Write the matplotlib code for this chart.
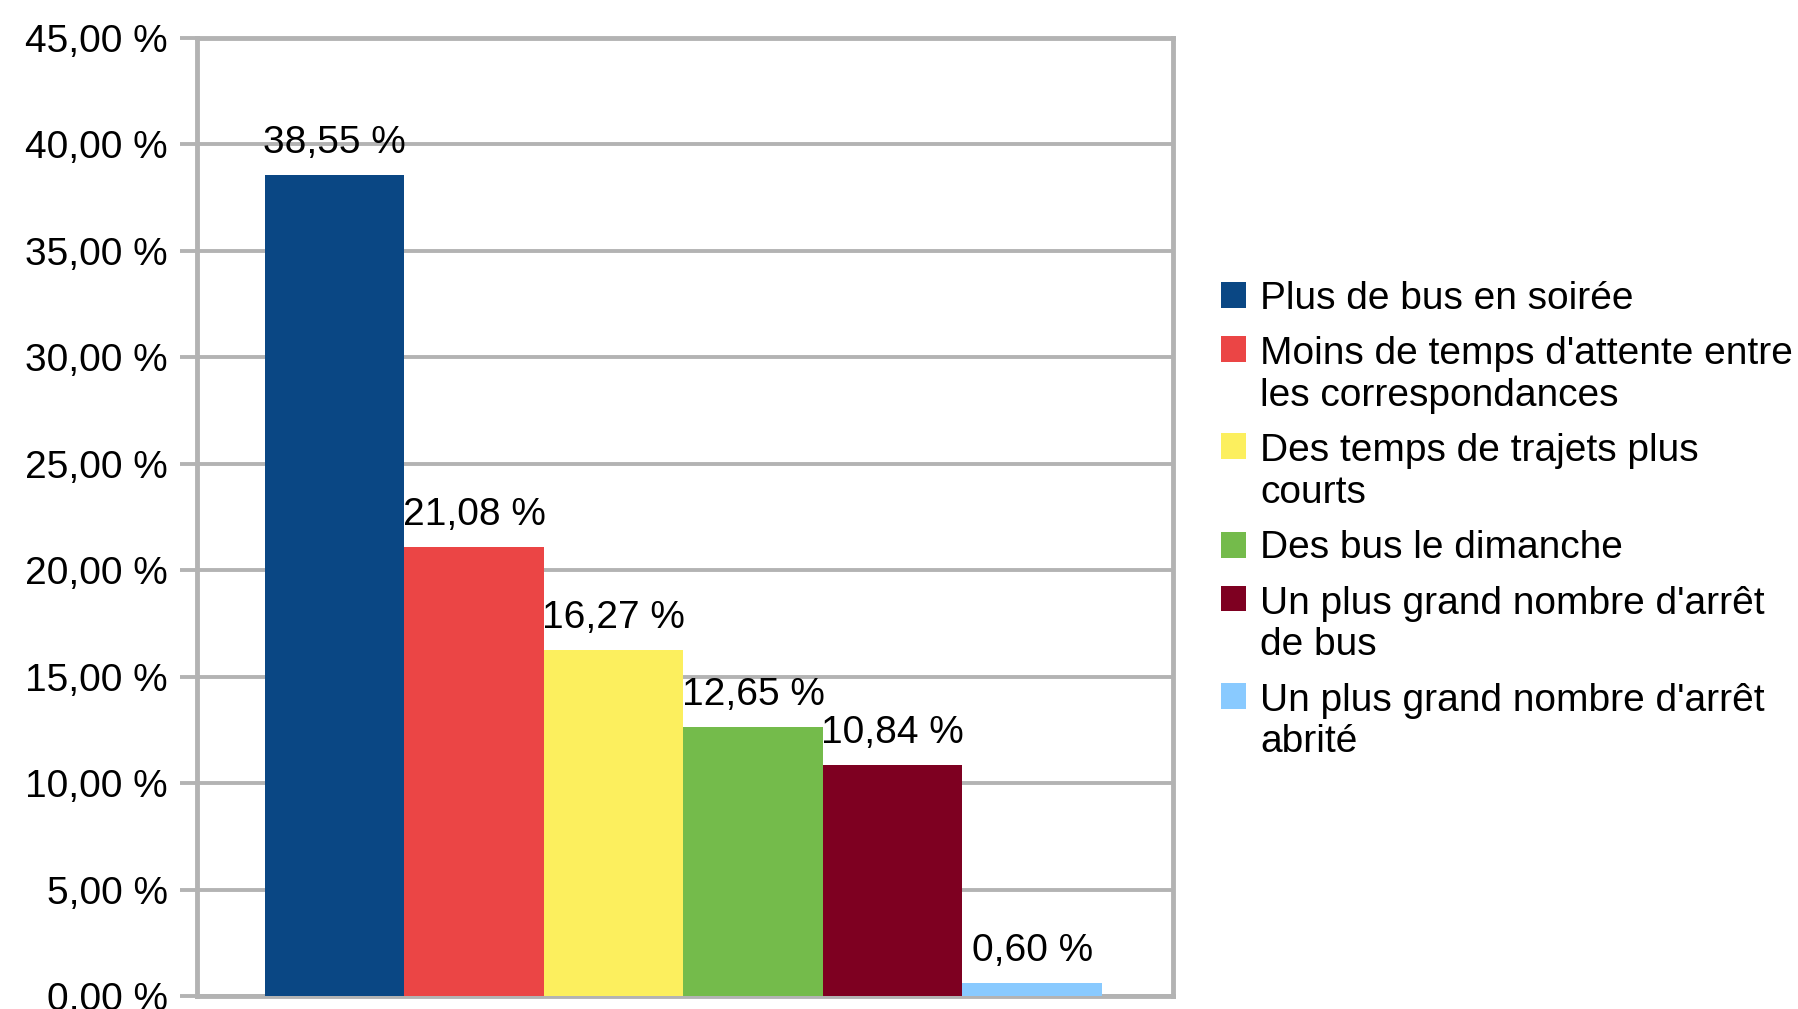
import matplotlib.pyplot as plt
from matplotlib.legend_handler import HandlerPatch
from matplotlib.patches import Rectangle

plt.rcParams['font.family'] = ['Liberation Sans', 'DejaVu Sans']

# Data
labels = ["Plus de bus en soirée",
          "Moins de temps d'attente entre\nles correspondances",
          "Des temps de trajets plus\ncourts",
          "Des bus le dimanche",
          "Un plus grand nombre d'arrêt\nde bus",
          "Un plus grand nombre d'arrêt\nabrité"]
values = [38.55, 21.08, 16.27, 12.65, 10.84, 0.60]
colors = ['#0a4784', '#eb4545', '#fcef5e', '#74bb4b', '#7e0021', '#89caff']
yticks = [0, 5, 10, 15, 20, 25, 30, 35, 40, 45]

FS = 28
grid_col = '#b3b3b3'


def pct(v):
    return f"{v:.2f}".replace('.', ',') + " %"


class TopSquare(HandlerPatch):
    # put the square next to the first line of a wrapped label
    def __init__(self, nlines, **kw):
        super().__init__(**kw)
        self.nlines = nlines

    def create_artists(self, legend, orig_handle, xdescent, ydescent,
                       width, height, fontsize, trans):
        shift = (self.nlines - 1) * fontsize * 0.68
        r = Rectangle((-xdescent, -ydescent + shift), width, height,
                      facecolor=orig_handle.get_facecolor(), edgecolor='none',
                      transform=trans)
        return [r]


fig = plt.figure(figsize=(17.98, 10.09), dpi=100)
ax = fig.add_axes([0.1096, 0.0129, 0.5428, 0.9494])

x = range(len(values))
bars = ax.bar(x, values, width=1.0, color=colors, zorder=3)

for i, v in enumerate(values):
    ax.annotate(pct(v), (i, v), xytext=(0, 10), textcoords='offset points',
                ha='center', va='bottom', fontsize=FS, color='black', zorder=4)

ax.set_xlim(-0.985, 6.01)
ax.set_ylim(0, 45)
ax.set_yticks(yticks)
ax.set_yticklabels([pct(t) for t in yticks], fontsize=FS)
ax.set_xticks([])
ax.yaxis.grid(True, color=grid_col, linewidth=2.8, zorder=0)
ax.set_axisbelow(True)
ax.tick_params(axis='y', length=12, width=2.8, color=grid_col, pad=9)
for s in ax.spines.values():
    s.set_color(grid_col)
    s.set_linewidth(3.5)

handles = list(bars.patches)
hmap = {h: TopSquare(lab.count('\n') + 1) for h, lab in zip(handles, labels)}
leg = fig.legend(handles, labels, loc='center left',
                 bbox_to_anchor=(0.6705, 0.484), frameon=False, fontsize=FS,
                 handlelength=0.65, handleheight=0.65, handletextpad=0.35,
                 labelspacing=0.5, handler_map=hmap, borderaxespad=0)

plt.savefig('out.png', dpi=100)
